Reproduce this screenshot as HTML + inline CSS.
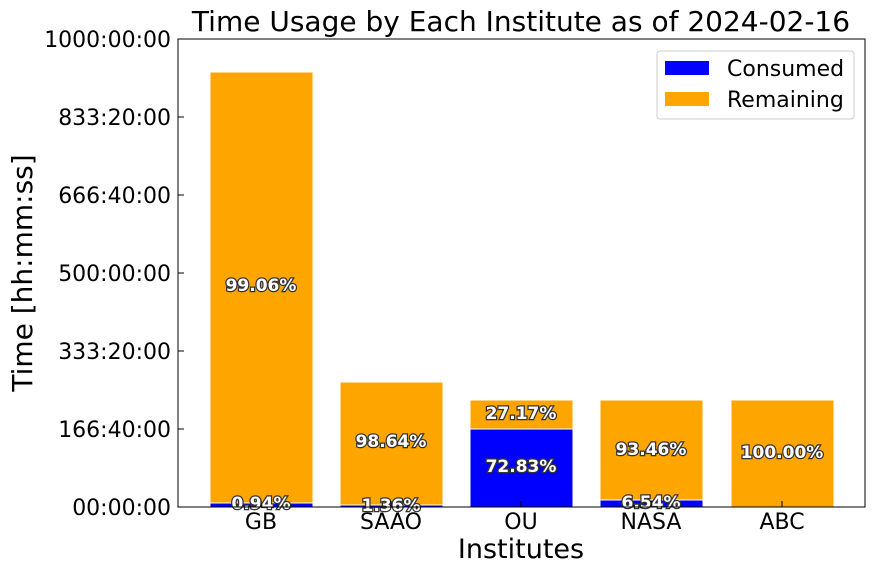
<!DOCTYPE html>
<html><head><meta charset="utf-8"><style>
html,body{margin:0;padding:0;background:#fff;}
svg{display:block;font-family:"DejaVu Sans","Liberation Sans",sans-serif;}
.pl{font-size:17px;font-weight:bold;fill:#fff;stroke:#333;stroke-width:2.5px;paint-order:stroke;text-anchor:middle;}
.tk{font-size:22px;fill:#000;}
</style></head><body>
<svg width="875" height="574" viewBox="0 0 875 574">
<rect width="875" height="574" fill="#fff"/>
<text x="521" y="31" font-size="28" text-anchor="middle">Time Usage by Each Institute as of 2024-02-16</text>
<g stroke="#fff" stroke-width="1">
<rect x="210" y="503" width="103" height="4" fill="#0000ff"/>
<rect x="210" y="72" width="103" height="431" fill="#ffa500"/>
<rect x="340" y="505" width="103" height="2" fill="#0000ff"/>
<rect x="340" y="382" width="103" height="123" fill="#ffa500"/>
<rect x="470" y="429" width="103" height="78" fill="#0000ff"/>
<rect x="470" y="400" width="103" height="29" fill="#ffa500"/>
<rect x="600" y="500" width="103" height="7" fill="#0000ff"/>
<rect x="600" y="400" width="103" height="100" fill="#ffa500"/>
<rect x="731" y="400" width="103" height="107" fill="#ffa500"/>
</g>
<text class="pl" x="261" y="291">99.06%</text>
<text class="pl" x="261" y="509">0.94%</text>
<text class="pl" x="391" y="447">98.64%</text>
<text class="pl" x="391" y="511">1.36%</text>
<text class="pl" x="521" y="419">27.17%</text>
<text class="pl" x="521" y="472">72.83%</text>
<text class="pl" x="651" y="455">93.46%</text>
<text class="pl" x="651" y="508">6.54%</text>
<text class="pl" x="782" y="458">100.00%</text>
<rect x="178" y="39" width="687" height="468" fill="none" stroke="#000" stroke-width="1"/>
<g stroke="#000" stroke-width="1">
<line x1="178" y1="39" x2="184" y2="39"/><line x1="178" y1="117" x2="184" y2="117"/>
<line x1="178" y1="195" x2="184" y2="195"/><line x1="178" y1="273" x2="184" y2="273"/>
<line x1="178" y1="351" x2="184" y2="351"/><line x1="178" y1="429" x2="184" y2="429"/>
<line x1="178" y1="507" x2="184" y2="507"/>
<line x1="261" y1="507" x2="261" y2="501"/><line x1="391" y1="507" x2="391" y2="501"/>
<line x1="521" y1="507" x2="521" y2="501"/><line x1="651" y1="507" x2="651" y2="501"/>
<line x1="782" y1="507" x2="782" y2="501"/>
</g>
<g class="tk" text-anchor="end">
<text x="171" y="47">1000:00:00</text>
<text x="171" y="125">833:20:00</text>
<text x="171" y="203">666:40:00</text>
<text x="171" y="281">500:00:00</text>
<text x="171" y="359">333:20:00</text>
<text x="171" y="437">166:40:00</text>
<text x="171" y="515">00:00:00</text>
</g>
<g class="tk" text-anchor="middle">
<text x="261" y="529">GB</text><text x="391" y="529">SAAO</text>
<text x="521" y="529">OU</text><text x="651" y="529">NASA</text>
<text x="782" y="529">ABC</text>
</g>
<text x="521" y="558" font-size="27" text-anchor="middle">Institutes</text>
<text transform="translate(32,273) rotate(-90)" font-size="28" text-anchor="middle">Time [hh:mm:ss]</text>
<rect x="657" y="51" width="197" height="68" rx="3" fill="#fff" stroke="#ccc" stroke-width="1"/>
<rect x="665" y="61" width="44" height="14" fill="#0000ff"/>
<rect x="665" y="92" width="44" height="14" fill="#ffa500"/>
<text x="727" y="76" font-size="22">Consumed</text>
<text x="727" y="107" font-size="22">Remaining</text>
</svg>
</body></html>
